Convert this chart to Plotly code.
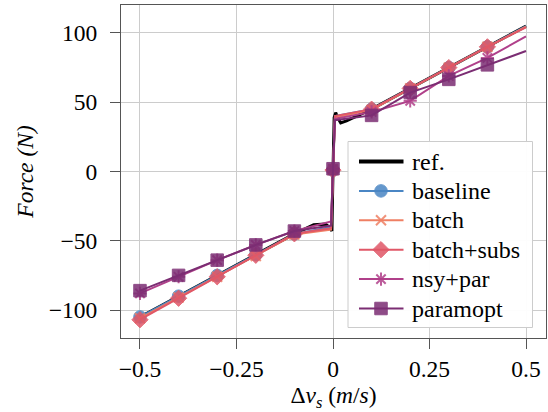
import plotly.graph_objects as go

# reference curve
ref_x = [-0.5, -0.3, -0.1, -0.05, -0.02, -0.008, -0.003, 0.0, 0.003, 0.007, 0.012, 0.02, 0.035, 0.1, 0.3, 0.5]
ref_y = [-105, -75, -45, -38.5, -38, -40.5, -43, 0, 39, 42.5, 39, 35, 36.5, 45, 75, 105]

# sampled series
vel = [-0.5, -0.4, -0.3, -0.2, -0.1, -0.005, 0.0, 0.005, 0.1, 0.2, 0.3, 0.4, 0.5]
baseline = [-105, -90, -75, -60, -45, -40, 1, 40, 45, 60, 75, 90, 105]
batch = [-106, -91, -76, -61, -45.5, -42, 1, 39, 44.5, 60, 75, 90, 104.5]
batch_subs = [-107, -91.5, -76, -60.5, -45, -41, 1, 40, 45, 60, 75, 90, 104]
nsy_par = [-88, -76, -64, -53, -43, -36, 2, 38, 43, 51, 69, 82, 97.5]
paramopt = [-86, -75, -64, -53, -43, -39, 2, 37, 40.5, 57, 66.5, 77, 87]

names = ["baseline", "batch", "batch+subs", "nsy+par", "paramopt"]
values = [baseline, batch, batch_subs, nsy_par, paramopt]

x_ticks = [-0.5, -0.25, 0, 0.25, 0.5]
x_ticktext = ["\u22120.5", "\u22120.25", "0", "0.25", "0.5"]
y_ticks = [-100, -50, 0, 50, 100]
y_ticktext = ["\u2212100", "\u221250", "0", "50", "100"]

colors = ["#4a86c4", "#ef7f63", "#e05767", "#b0408a", "#7b2d73"]
symbols = ["circle", "x-thin-open", "diamond", "asterisk-open", "square"]
msizes = [12.5, 10, 12.5, 11, 12.5]

FONT = "Liberation Serif, Times New Roman, serif"

# plot-area geometry in pixels (for the hand-made legend)
W, H = 548, 412
ML, MR, MT, MB = 121, 2, 5, 74
PW, PH = W - ML - MR, H - MT - MB


def px(xp):
    return (xp - ML) / PW


def py(yp):
    return (H - MB - yp) / PH


fig = go.Figure()

fig.add_trace(go.Scatter(x=ref_x, y=ref_y, mode="lines", name="ref.",
                         line=dict(color="black", width=3), showlegend=False))

marker_defs = []
for name, vals, c, s, ms in zip(names, values, colors, symbols, msizes):
    mx = [x for x in vel if abs(round(x * 10) - x * 10) < 1e-9 and x < 0.45]
    my = [v for x, v in zip(vel, vals) if x in mx]
    mk = dict(symbol=s, size=ms, color=c, opacity=0.85,
              line=dict(color=c, width=2 if "open" in s else 1))
    marker_defs.append(mk)
    fig.add_trace(go.Scatter(x=vel, y=vals, mode="lines", line=dict(color=c, width=2),
                             showlegend=False, hoverinfo="skip"))
    fig.add_trace(go.Scatter(x=mx, y=my, mode="markers", marker=mk, showlegend=False,
                             name=name))

# ---- legend drawn by hand inside the axes (overlay axes span 0..1 of the plot area) ----
bx0, bx1, by0, by1 = px(348), px(532.5), py(327.5), py(141.5)
fig.add_trace(go.Scatter(x=[bx0, bx1, bx1, bx0, bx0], y=[by0, by0, by1, by1, by0],
                         mode="lines", fill="toself", fillcolor="rgba(255,255,255,0.95)",
                         line=dict(color="#cccccc", width=1), xaxis="x2", yaxis="y2",
                         showlegend=False, hoverinfo="skip"))

leg_names = ["ref."] + names
row0, dy = 161.5, 29.4
lx0, lx1, lxm, tx = 359, 403.5, 381, 410.5
for i, nm in enumerate(leg_names):
    yy = py(row0 + i * dy)
    if i == 0:
        fig.add_trace(go.Scatter(x=[px(lx0), px(lx1)], y=[yy, yy], mode="lines",
                                 line=dict(color="black", width=4), xaxis="x2", yaxis="y2",
                                 showlegend=False, hoverinfo="skip"))
    else:
        c = colors[i - 1]
        fig.add_trace(go.Scatter(x=[px(lx0), px(lx1)], y=[yy, yy], mode="lines",
                                 line=dict(color=c, width=2), xaxis="x2", yaxis="y2",
                                 showlegend=False, hoverinfo="skip"))
        fig.add_trace(go.Scatter(x=[px(lxm)], y=[yy], mode="markers", marker=marker_defs[i - 1],
                                 xaxis="x2", yaxis="y2", showlegend=False, hoverinfo="skip"))
    fig.add_annotation(x=px(tx), y=yy, xref="paper", yref="paper", text=nm, showarrow=False,
                       xanchor="left", yanchor="middle", xshift=-1,
                       font=dict(family=FONT, size=24, color="black"))

axis_common = dict(showgrid=True, gridcolor="#cccccc", gridwidth=1,
                   showline=True, linecolor="#555555", linewidth=1, mirror=True,
                   ticks="outside", ticklen=10, tickcolor="#555555", tickwidth=1,
                   zeroline=False, tickfont=dict(family=FONT, size=23.5, color="black"))

xaxis = dict(range=[-0.5492, 0.5518], tickvals=x_ticks, ticktext=x_ticktext,
             title=dict(text="\u0394<i>v<sub>s</sub></i> (<i>m</i>/<i>s</i>)",
                        font=dict(family=FONT, size=23.5, color="black"), standoff=7),
             **axis_common)
yaxis = dict(range=[-120.2, 120.2], tickvals=y_ticks, ticktext=y_ticktext,
             ticklabelstandoff=8,
             title=dict(text="<i>Force (N)</i>",
                        font=dict(family=FONT, size=23.5, color="black"), standoff=8),
             **axis_common)

fig.update_layout(
    width=W, height=H,
    margin=dict(l=ML, r=MR, t=MT, b=MB, autoexpand=False),
    plot_bgcolor="white", paper_bgcolor="white",
    font=dict(family=FONT, size=23.5, color="black"),
    showlegend=False,
    xaxis=xaxis, yaxis=yaxis,
    xaxis2=dict(overlaying="x", range=[0, 1], visible=False, fixedrange=True),
    yaxis2=dict(overlaying="y", range=[0, 1], visible=False, fixedrange=True),
)

fig.write_html("out.html", config={"displayModeBar": False},
               post_script="document.body.style.margin='0';document.body.style.overflow='hidden';")
